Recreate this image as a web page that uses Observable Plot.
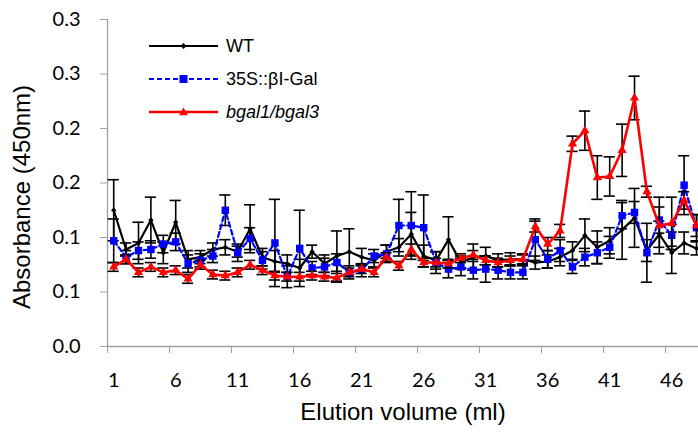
<!DOCTYPE html>
<html><head><meta charset="utf-8">
<script src="https://cdn.jsdelivr.net/npm/d3@7"></script>
<script src="https://cdn.jsdelivr.net/npm/@observablehq/plot@0.6"></script>
<style>
html,body{margin:0;padding:0;background:#fff;}
#chart{position:relative;width:698px;height:442px;overflow:hidden;}
#legend{position:absolute;left:149px;top:0;font-family:"Liberation Sans",Arial,sans-serif;font-size:18px;color:#000;}
#legend .item{position:absolute;left:0;height:24px;display:flex;align-items:center;white-space:nowrap;}
#legend svg{display:block;margin-right:7px;}
</style></head><body><div id="chart"></div>
<script>
// Elution volume categories (ml)
const volumes = d3.range(1, 49);
const xTickLabels = ["1","6","11","16","21","26","31","36","41","46"];
const xLabelValues = [1,6,11,16,21,26,31,36,41,46];
const xTickMarks = [0.5,5.5,10.5,15.5,20.5,25.5,30.5,35.5,40.5,45.5];
const yTicks = [0, 0.05, 0.1, 0.15, 0.2, 0.25, 0.3];
const yTickLabels = ["0.0","0.1","0.1","0.2","0.2","0.3","0.3"];

const seriesNames = ["WT", "35S::βI-Gal", "bgal1/bgal3"];

const wt = [0.125,0.089,0.095,0.116,0.086,0.114,0.080,0.082,0.089,0.091,0.087,0.108,
            0.082,0.078,0.076,0.072,0.087,0.076,0.083,0.087,0.082,0.079,0.087,0.091,
            0.103,0.083,0.079,0.098,0.077,0.082,0.083,0.079,0.080,0.080,0.077,0.078,
            0.082,0.088,0.102,0.091,0.097,0.107,0.118,0.088,0.103,0.086,0.095,0.090];
const wtErr = [0.028,0.006,0.019,0.021,0.010,0.020,0.008,0.006,0.006,0.007,0.005,0.022,
               0.008,0.010,0.008,0.008,0.006,0.008,0.023,0.021,0.008,0.006,0.006,0.008,
               0.020,0.010,0.008,0.021,0.006,0.012,0.008,0.006,0.006,0.005,0.006,0.006,
               0.008,0.008,0.015,0.015,0.012,0.027,0.027,0.010,0.012,0.019,0.010,0.006];

const gal = [0.097,0.082,0.088,0.089,0.094,0.096,0.076,0.079,0.083,0.125,0.086,0.099,
             0.079,0.095,0.064,0.090,0.072,0.073,0.077,0.068,0.070,0.083,0.085,0.111,
             0.111,0.109,0.077,0.071,0.073,0.070,0.071,0.070,0.068,0.068,0.098,0.080,
             0.088,0.073,0.082,0.086,0.091,0.120,0.123,0.086,0.116,0.102,0.148,0.109];
const galErr = [0.020,0.006,0.008,0.008,0.008,0.008,0.008,0.006,0.006,0.014,0.008,0.010,
                0.008,0.040,0.010,0.035,0.006,0.008,0.008,0.006,0.006,0.006,0.008,0.024,
                0.031,0.030,0.010,0.008,0.008,0.008,0.012,0.008,0.006,0.006,0.019,0.008,
                0.010,0.006,0.008,0.010,0.010,0.012,0.010,0.027,0.012,0.010,0.027,0.012];

const bgal = [0.073,0.080,0.068,0.073,0.068,0.070,0.062,0.075,0.066,0.065,0.068,0.075,
              0.070,0.065,0.064,0.064,0.065,0.064,0.063,0.068,0.071,0.068,0.082,0.074,
              0.089,0.077,0.077,0.076,0.081,0.084,0.079,0.077,0.079,0.080,0.110,0.094,
              0.106,0.186,0.198,0.155,0.156,0.180,0.228,0.142,0.111,0.113,0.134,0.111];
const bgalErr = [0.004,0.004,0.004,0.004,0.004,0.004,0.004,0.004,0.004,0.004,0.004,0.004,
                 0.004,0.004,0.004,0.004,0.004,0.004,0.004,0.004,0.004,0.004,0.004,0.004,
                 0.005,0.004,0.004,0.004,0.004,0.004,0.004,0.004,0.004,0.004,0.005,0.006,
                 0.006,0.007,0.018,0.020,0.018,0.024,0.020,0.005,0.026,0.024,0.008,0.010];

const colors = ["#000000", "#0000ff", "#ff0000"];
const symbols = ["diamond2", "square", "triangle"];

function rows(vals, errs, name) {
  return volumes.map((v, i) => ({x: v, y: vals[i], err: errs[i], series: name}));
}
const groups = [rows(wt, wtErr, seriesNames[0]), rows(gal, galErr, seriesNames[1]), rows(bgal, bgalErr, seriesNames[2])];

const tickFont = "Lato, 'Open Sans', sans-serif";
const titleFont = "'Liberation Sans', Arial, sans-serif";
const capHalf = 0.45;

const marks = [
  Plot.ruleX([0.5], {stroke: "#a0a0a0", strokeWidth: 1.3}),
  Plot.ruleY([0], {stroke: "#a0a0a0", strokeWidth: 1.3}),
  Plot.axisY({ticks: yTicks, tickSize: 7, tickPadding: 20, tickFormat: (d, i) => yTickLabels[i],
              stroke: "#a0a0a0", fill: "#000", fontSize: 20, fontFamily: tickFont, label: null}),
  Plot.axisX({ticks: xTickMarks, tickSize: 7, tickFormat: () => "", stroke: "#a0a0a0", label: null}),
  Plot.axisX({ticks: xLabelValues, tickSize: 0, tickPadding: 26, tickFormat: (d, i) => xTickLabels[i],
              fill: "#000", fontSize: 20, fontFamily: tickFont, label: null}),
  Plot.text(["Elution volume (ml)"], {text: d => d, frameAnchor: "bottom", dy: 66,
              textAnchor: "middle", lineAnchor: "middle",
              fontSize: 24, fontFamily: titleFont, fill: "#000"}),
  Plot.text(["Absorbance (450nm)"], {text: d => d, frameAnchor: "left", rotate: -90, dx: -85, dy: 14,
              textAnchor: "middle", lineAnchor: "middle",
              fontSize: 24, fontFamily: titleFont, fill: "#000"})
];

const widths = [2.2, 2.2, 2.6];
const radii = [2.4, 4.2, 3.4];
groups.forEach((g, k) => {
  marks.push(
    Plot.ruleX(g, {x: "x", y1: d => d.y - d.err, y2: d => d.y + d.err, stroke: "#000", strokeWidth: 1.6}),
    Plot.ruleY(g, {y: d => d.y + d.err, x1: d => d.x - capHalf, x2: d => d.x + capHalf, stroke: "#000", strokeWidth: 1.6}),
    Plot.ruleY(g, {y: d => d.y - d.err, x1: d => d.x - capHalf, x2: d => d.x + capHalf, stroke: "#000", strokeWidth: 1.6}),
    Plot.line(g, {x: "x", y: "y", stroke: colors[k], strokeWidth: widths[k],
                  strokeDasharray: k === 1 ? "5,3" : null}),
    Plot.dot(g, {x: "x", y: "y", symbol: symbols[k], r: radii[k], fill: colors[k], stroke: "none"})
  );
});

const chart = Plot.plot({
  width: 698,
  height: 442,
  marginLeft: 107,
  marginRight: 0,
  marginTop: 19,
  marginBottom: 96,
  x: {type: "linear", domain: [0.5, 48.16]},
  y: {type: "linear", domain: [0, 0.3]},
  style: {background: "#fff", overflow: "hidden"},
  marks
});
const host = document.getElementById("chart");
host.appendChild(chart);

// Legend (inside plot area, top-left)
const legend = document.createElement("div");
legend.id = "legend";
const legendY = [46, 79, 112];
const symPath = [
  "M-3,0L0,-3L3,0L0,3Z",
  "M-4,-4H4V4H-4Z",
  "M0,-4.5L4.5,3.2H-4.5Z"
];
seriesNames.forEach((name, k) => {
  const item = document.createElement("div");
  item.className = "item";
  item.style.top = (legendY[k] - 12) + "px";
  const dash = k === 1 ? ' stroke-dasharray="5,3"' : "";
  item.innerHTML = `<svg width="70" height="24"><line x1="0" y1="12" x2="69" y2="12" stroke="${colors[k]}" stroke-width="${widths[k]}"${dash}/><path transform="translate(34.5,12)" d="${symPath[k]}" fill="${colors[k]}"/></svg>`;
  const label = document.createElement("span");
  label.textContent = name;
  if (k === 2) label.style.fontStyle = "italic";
  item.appendChild(label);
  legend.appendChild(item);
});
host.appendChild(legend);
</script>
</body></html>
